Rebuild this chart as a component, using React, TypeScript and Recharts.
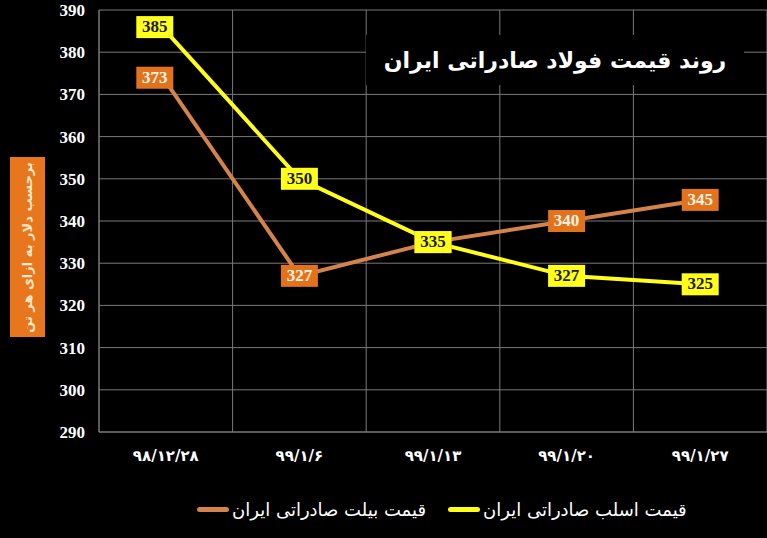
import { LineChart, Line, XAxis, YAxis, CartesianGrid, LabelList } from 'recharts';

const dates = ['۹۸/۱۲/۲۸', '۹۹/۱/۶', '۹۹/۱/۱۳', '۹۹/۱/۲۰', '۹۹/۱/۲۷'];
const billetPrices = [373, 327, 335, 340, 345];
const slabPrices = [385, 350, 335, 327, 325];
const yTicks = [290, 300, 310, 320, 330, 340, 350, 360, 370, 380, 390];

const title = 'روند قیمت فولاد صادراتی ایران';
const unitLabel = 'برحسب دلار به ازای هر تن';
const billetName = 'قیمت بیلت صادراتی ایران';
const slabName = 'قیمت اسلب صادراتی ایران';

const BILLET_LINE = '#d4834c';
const BILLET_BOX = '#e2731c';
const SLAB = '#ffff1a';
const GRID = '#7a7a7a';

const data = dates.map((date, i) => ({
  pos: i + 0.5,
  date,
  billet: billetPrices[i],
  slab: slabPrices[i],
}));

// value box drawn on each point
const boxLabel = (fill: string, textColor: string) => (props: any) => {
  const { x, y, value, index } = props;
  const w = 37;
  const h = 22;
  const dx = index === 0 ? -11 : 0;
  const dy = index === 0 ? -4 : 0;
  return (
    <g>
      <rect x={x - w / 2 + dx} y={y - h / 2 + dy} width={w} height={h} fill={fill} />
      <text
        x={x + dx}
        y={y + dy + 1}
        textAnchor="middle"
        dominantBaseline="middle"
        fill={textColor}
        style={{ fontFamily: 'Liberation Serif', fontWeight: 700, fontSize: 17 }}
      >
        {value}
      </text>
    </g>
  );
};

export default function App() {
  return (
    <div
      style={{
        position: 'absolute',
        left: 0,
        top: 0,
        width: 767,
        height: 538,
        background: '#000',
        overflow: 'hidden',
      }}
    >
      <LineChart width={767} height={538} data={data} margin={{ top: 10, right: 0, bottom: 66, left: 0 }}>
        <CartesianGrid xAxisId="grid" stroke={GRID} strokeWidth={1} />
        <XAxis
          dataKey="pos"
          type="number"
          domain={[0, 5]}
          ticks={[0.5, 1.5, 2.5, 3.5, 4.5]}
          tickFormatter={(v: number) => dates[Math.floor(v)]}
          axisLine={{ stroke: GRID }}
          tickLine={false}
          tickMargin={12}
          height={40}
          tick={{ fill: '#fff', fontFamily: 'DejaVu Sans', fontWeight: 700, fontSize: 15 }}
        />
        <XAxis xAxisId="grid" dataKey="pos" type="number" domain={[0, 5]} ticks={[1, 2, 3, 4]} hide />
        <YAxis
          type="number"
          domain={[290, 390]}
          ticks={yTicks}
          width={99}
          axisLine={{ stroke: GRID }}
          tickLine={false}
          tickMargin={8}
          tick={{ fill: '#fff', fontFamily: 'Liberation Serif', fontWeight: 700, fontSize: 17 }}
        />
        <Line
          dataKey="billet"
          stroke={BILLET_LINE}
          strokeWidth={4}
          dot={false}
          isAnimationActive={false}
        >
          <LabelList dataKey="billet" content={boxLabel(BILLET_BOX, '#fff4e4')} />
        </Line>
        <Line
          dataKey="slab"
          stroke={SLAB}
          strokeWidth={4}
          dot={false}
          isAnimationActive={false}
        >
          <LabelList dataKey="slab" content={boxLabel(SLAB, '#1a1a1a')} />
        </Line>
      </LineChart>

      {/* title box over the grid */}
      <div
        style={{
          position: 'absolute',
          left: 366,
          top: 35,
          width: 378,
          height: 50,
          background: '#000',
          color: '#fff',
          fontFamily: 'DejaVu Sans',
          fontWeight: 700,
          fontSize: 22,
          direction: 'rtl',
          display: 'flex',
          alignItems: 'center',
          justifyContent: 'center',
        }}
      >
        {title}
      </div>

      {/* unit label */}
      <div
        style={{
          position: 'absolute',
          left: 10,
          top: 157,
          width: 35,
          height: 180,
          background: '#e8761c',
          display: 'flex',
          alignItems: 'center',
          justifyContent: 'center',
        }}
      >
        <div
          style={{
            transform: 'rotate(-90deg)',
            color: '#fbe8cc',
            fontFamily: 'DejaVu Sans',
            fontWeight: 700,
            fontSize: 13,
            direction: 'rtl',
            whiteSpace: 'nowrap',
          }}
        >
          {unitLabel}
        </div>
      </div>

      {/* legend */}
      <div
        style={{
          position: 'absolute',
          left: 197,
          top: 499,
          display: 'flex',
          alignItems: 'center',
          color: '#fff',
          fontFamily: 'DejaVu Sans',
          fontSize: 18,
        }}
      >
        {[
          { name: billetName, color: BILLET_LINE },
          { name: slabName, color: SLAB },
        ].map((item, i) => (
          <div key={item.name} style={{ display: 'flex', alignItems: 'center', marginRight: i === 0 ? 22 : 0 }}>
            <span
              style={{
                display: 'inline-block',
                width: 32,
                height: 5,
                borderRadius: 3,
                background: item.color,
                marginRight: 3,
              }}
            />
            <span style={{ direction: 'rtl' }}>{item.name}</span>
          </div>
        ))}
      </div>
    </div>
  );
}
